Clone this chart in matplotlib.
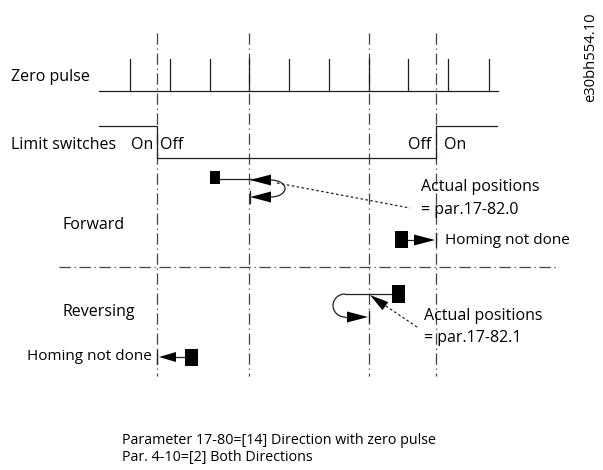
import numpy as np
import matplotlib.pyplot as plt
from matplotlib.patches import Polygon, Rectangle, Arc

plt.rcParams['font.family'] = ['Open Sans', 'DejaVu Sans']

# diagram is laid out in pixel units of the original drawing (y grows downward)
guide_x = [157, 249, 369, 436]
pulse_x = [130, 170, 210, 249, 289, 329, 369, 408, 448, 489]
switch_x = [99, 157, 157, 436, 436, 497]
switch_y = [126, 126, 158, 158, 126, 126]

labels_left = ["Zero pulse", "Limit switches", "Forward", "Reversing"]
note_lines = ["Parameter 17-80=[14] Direction with zero pulse",
              "Par. 4-10=[2] Both Directions"]
pos_fwd = ["Actual positions", "= par.17-82.0"]
pos_rev = ["Actual positions", "= par.17-82.1"]
doc_id = "e30bh554.10"

ink = "#231f20"
fs = 11.5

fig = plt.figure(figsize=(6.03, 4.70), dpi=100)
ax = fig.add_axes([0, 0, 1, 1])
ax.set_xlim(0, 603)
ax.set_ylim(470, 0)
ax.axis("off")

dashdot = (0, (9, 3, 1, 3))


def arrowhead(tip, direction, length=21, width=11):
    d = np.array(direction, dtype=float)
    d = d / np.hypot(*d)
    n = np.array([-d[1], d[0]])
    tip = np.array(tip, dtype=float)
    base = tip - d * length
    pts = [tip, base + n * width / 2, base - n * width / 2]
    ax.add_patch(Polygon(pts, closed=True, color="black", lw=0, zorder=4))


def block(x0, y0, x1, y1):
    ax.add_patch(Rectangle((x0, y0), x1 - x0, y1 - y0, color="black", lw=0, zorder=4))


# dash-dot guides
for gx in guide_x:
    ax.plot([gx, gx], [33, 376], color="#444444", lw=0.9, ls=dashdot)
ax.plot([59, 558], [267, 267], color="#444444", lw=0.9, ls=dashdot)

# zero pulse track
ax.plot([99, 498], [91, 91], color=ink, lw=0.9)
for px in pulse_x:
    ax.plot([px, px], [59, 91], color=ink, lw=0.9)

# limit switch track
ax.plot(switch_x, switch_y, color=ink, lw=0.9)

# text labels
ax.text(11, 77, labels_left[0], fontsize=fs, va="center", ha="left")
ax.text(11, 145, labels_left[1], fontsize=fs, va="center", ha="left")
ax.text(153, 145, "On", fontsize=fs, va="center", ha="right")
ax.text(160, 145, "Off", fontsize=fs, va="center", ha="left")
ax.text(431, 145, "Off", fontsize=fs, va="center", ha="right")
ax.text(444, 145, "On", fontsize=fs, va="center", ha="left")
ax.text(62, 225, labels_left[2], fontsize=fs, va="center", ha="left")
ax.text(62, 312, labels_left[3], fontsize=fs, va="center", ha="left")

ax.text(421, 187, pos_fwd[0], fontsize=fs, va="center", ha="left")
ax.text(421, 210, pos_fwd[1], fontsize=fs, va="center", ha="left")
ax.text(424, 316, pos_rev[0], fontsize=fs, va="center", ha="left")
ax.text(424, 338, pos_rev[1], fontsize=fs, va="center", ha="left")

ax.text(445, 240, "Homing not done", fontsize=fs - 0.5, va="center", ha="left")
ax.text(152, 356, "Homing not done", fontsize=fs - 0.5, va="center", ha="right")

ax.text(122, 441, note_lines[0], fontsize=10.3, va="center", ha="left")
ax.text(122, 458, note_lines[1], fontsize=10.3, va="center", ha="left")

ax.text(591, 57, doc_id, fontsize=10.6, va="center", ha="center", rotation=90)

# forward: search to the right, return to the pulse
block(210, 171, 220, 184)
ax.plot([220, 255], [179, 179], color=ink, lw=0.9)
arrowhead((250, 180), (-1, 0))
ax.add_patch(Arc((271, 188.5), 28, 17, theta1=-90, theta2=90, color=ink, lw=0.9))
arrowhead((250, 197), (-1, 0))
ax.plot([250, 250], [191, 203], color=ink, lw=0.9)
ax.plot([277, 410], [183, 208], color=ink, lw=0.9, ls=(0, (2, 2)))

# forward: homing not done
block(395, 231, 408, 248)
ax.plot([408, 420], [240, 240], color=ink, lw=0.9)
arrowhead((435, 240), (1, 0))
ax.plot([436, 436], [233, 247], color=ink, lw=0.9)

# reversing: loop back to the pulse
block(392, 285, 405, 303)
ax.plot([345, 392], [294, 294], color=ink, lw=0.9)
ax.add_patch(Arc((345, 305.5), 24, 23, theta1=90, theta2=270, color=ink, lw=0.9))
ax.plot([345, 350], [317, 317], color=ink, lw=0.9)
arrowhead((368, 317), (1, 0))
ax.plot([369, 369], [311, 322], color=ink, lw=0.9)
ax.plot([417, 380], [327, 302], color=ink, lw=0.9, ls=(0, (2, 2)))
arrowhead((370, 295), (-1.1, -0.8), length=19, width=10)

# reversing: homing not done
block(185, 349, 198, 366)
ax.plot([172, 185], [357, 357], color=ink, lw=0.9)
arrowhead((159, 357), (-1, 0), length=17, width=10)
ax.plot([157, 157], [350, 364], color=ink, lw=0.9)

fig.savefig("out.png", dpi=100)
